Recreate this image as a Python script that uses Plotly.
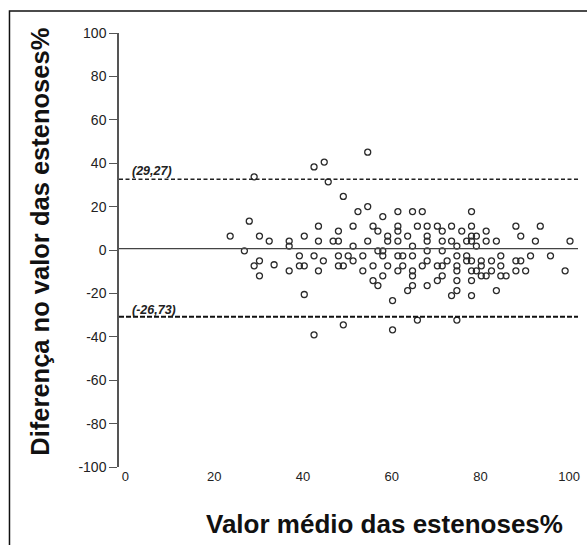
import plotly.graph_objects as go

# Mean of the two measurements (%)
mean_values = [
    23.6, 27.9, 26.8, 29.0, 30.2, 30.2, 29.0, 30.2, 32.4, 33.5,
    36.9, 36.9, 36.9, 39.2, 39.2, 40.3, 40.3, 40.3, 42.5, 44.8,
    45.7, 49.1, 43.5, 43.5, 42.5, 44.6, 43.5, 42.5, 48.0, 46.8,
    48.0, 48.0, 48.0, 49.1, 49.1, 50.2,
    51.3, 51.3, 51.3, 52.4, 53.5, 53.5, 54.6, 54.6, 54.6, 55.8,
    55.8, 55.8, 56.9, 56.9, 56.9, 58.0, 58.0, 58.0, 58.0, 59.1,
    59.1, 59.1, 60.2, 60.2, 61.4, 61.4, 61.4, 61.4, 61.4, 61.4,
    62.5, 62.5, 63.6, 63.6, 64.7, 64.7, 64.7, 64.7, 64.7, 64.7,
    65.8, 65.8, 66.9, 66.9, 68.0, 68.0, 68.0, 68.0, 68.0, 68.0,
    70.3, 70.3, 70.3, 71.4, 71.4, 71.4, 71.4, 71.4, 72.5, 73.5,
    73.5, 73.5, 74.7, 74.7, 74.7, 74.7, 74.7, 74.7, 74.7, 75.8,
    76.9, 76.9, 76.9, 78.0, 78.0, 78.0, 78.0, 78.0, 78.0, 78.0,
    78.0, 79.1, 79.1, 79.1, 80.2, 80.2, 80.2, 81.3, 81.3, 81.3,
    82.5, 82.5, 83.6, 83.6, 84.6, 84.6, 84.6, 85.8, 88.0, 88.0,
    88.0, 89.1, 89.1, 90.2, 91.3, 92.4, 93.5, 95.8, 99.1, 100.2,
]

# Difference between the two measurements (%)
diff_values = [
    6.4, 13.3, -0.4, 33.7, 6.4, -5.0, -7.3, -11.9, 4.1, -6.8,
    4.1, 1.8, -9.6, -2.7, -7.3, -7.3, 6.4, -20.5, 38.3, 40.5,
    31.4, 24.7, 11.0, 4.1, -2.7, -5.0, -9.6, -39.1, 8.7, 4.1,
    4.1, -2.7, -7.3, -7.3, -34.5, -2.7,
    11.0, 1.8, -5.0, 17.7, -2.7, -9.6, 45.1, 20.0, 4.1, 11.0,
    -7.3, -14.1, 8.7, -16.4, -0.4, 15.4, -0.4, -2.7, -11.9, 6.4,
    4.1, -7.3, -23.3, -36.8, 17.7, 11.0, 8.7, 4.1, -2.7, -9.6,
    -2.7, -7.3, 6.4, -18.7, 17.7, 1.8, -2.7, -9.6, -11.9, -16.4,
    11.0, -32.3, 17.7, -7.3, 11.0, 6.4, 4.1, -0.4, -5.0, -16.4,
    11.0, -7.3, -14.1, 8.7, 4.1, -0.4, -7.3, -11.9, -5.0, 11.0,
    4.1, -21.0, 1.8, -2.7, -7.3, -9.6, -14.1, -18.7, -32.3, 8.7,
    4.1, -2.7, -5.0, 17.7, 11.0, 6.4, 4.1, -5.0, -9.6, -14.1,
    -21.0, 6.4, 1.8, -9.6, -5.0, -7.3, -11.9, 8.7, 4.1, -11.9,
    -5.0, -9.6, 4.1, -18.7, -2.7, -7.3, -11.9, -11.9, 11.0, -5.0,
    -9.6, 6.4, -5.0, -9.6, -2.7, 4.1, 11.0, -2.7, -9.6, 4.1,
]

# Reference lines (as drawn) and their labels
upper_limit = 32.6
mean_difference = 0.6
lower_limit = -30.8
upper_label = "(29,27)"
lower_label = "(-26,73)"

x_ticks = [0, 20, 40, 60, 80, 100]
y_ticks = [-100, -80, -60, -40, -20, 0, 20, 40, 60, 80, 100]
y_tick_text = [str(v) for v in y_ticks]
x_range = [-1.46, 102.0]
y_range = [-100, 100]

x_title = "Valor médio das estenoses%"
y_title = "Diferença no valor das estenoses%"

FONT = "Liberation Sans, Arial, sans-serif"

fig = go.Figure()
fig.add_trace(go.Scatter(
    x=mean_values, y=diff_values, mode="markers",
    marker=dict(symbol="circle-open", size=6, color="#2a2a2a",
                line=dict(width=1.3, color="#2a2a2a")),
    showlegend=False, hoverinfo="x+y",
))

for yv, dash, w, col in [
    (upper_limit, "4px,2.5px", 1.4, "#222222"),
    (lower_limit, "5px,2px", 2.0, "#111111"),
    (mean_difference, "solid", 1.2, "#444444"),
]:
    fig.add_shape(type="line", xref="x", yref="y",
                  x0=x_range[0], x1=x_range[1], y0=yv, y1=yv,
                  line=dict(color=col, width=w, dash=dash))

# outer frame (left and top visible)
fig.add_shape(type="rect", xref="paper", yref="paper",
              x0=-0.2386, x1=1.05, y0=-0.25, y1=1.0507,
              line=dict(color="#111111", width=1.5), layer="below")

fig.add_annotation(x=1.0, y=36.3, xref="x", yref="y", text="<b><i>" + upper_label + "</i></b>",
                   showarrow=False, xanchor="left", yanchor="middle",
                   font=dict(family=FONT, size=12.5, color="#222222"))
fig.add_annotation(x=1.0, y=-27.6, xref="x", yref="y", text="<b><i>" + lower_label + "</i></b>",
                   showarrow=False, xanchor="left", yanchor="middle",
                   font=dict(family=FONT, size=12.5, color="#222222"))

fig.add_annotation(x=0.578, y=-0.1313, xref="paper", yref="paper", text="<b>" + x_title + "</b>",
                   showarrow=False, xanchor="center", yanchor="middle",
                   font=dict(family=FONT, size=26, color="#111111"))
fig.add_annotation(x=-0.171, y=0.518, xref="paper", yref="paper", text="<b>" + y_title + "</b>",
                   showarrow=False, xanchor="center", yanchor="middle", textangle=-90,
                   font=dict(family=FONT, size=25.5, color="#111111"))

fig.update_layout(
    width=587, height=545,
    margin=dict(l=119, r=7, t=33, b=78),
    paper_bgcolor="white", plot_bgcolor="white",
    font=dict(family=FONT, color="#222222"),
    xaxis=dict(range=x_range, tickvals=x_ticks, showline=False, showgrid=False,
               zeroline=False, ticks="", tickfont=dict(size=13, color="#222222")),
    yaxis=dict(range=y_range, tickvals=y_ticks, ticktext=y_tick_text,
               showline=True, linecolor="#555555",
               linewidth=1.5, showgrid=False, zeroline=False, ticks="outside",
               ticklen=8, tickcolor="#555555", tickwidth=1.3,
               tickfont=dict(size=14, color="#222222")),
)

fig.write_html(
    "out.html",
    config={"displayModeBar": False},
    post_script="document.body.style.margin='0';document.body.style.overflow='hidden';",
)
